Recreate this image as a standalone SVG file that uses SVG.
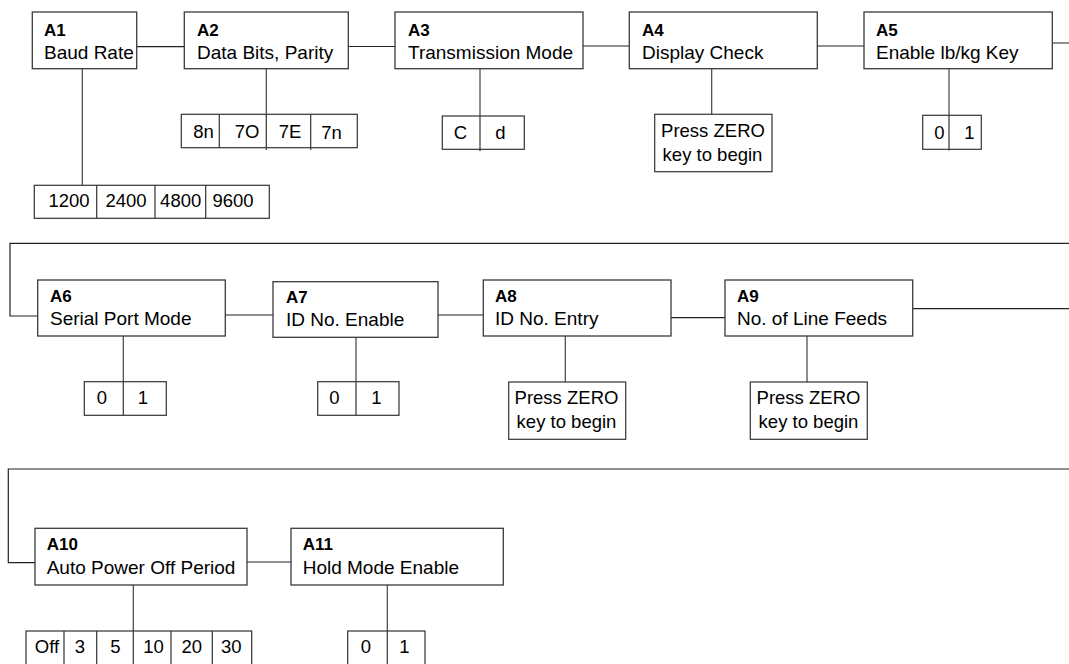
<svg xmlns="http://www.w3.org/2000/svg" width="1069" height="664" viewBox="0 0 1069 664">
<style>
.box{fill:#fff;stroke:#3a3a3a;stroke-width:1.3}
.opt{fill:#fff;stroke:#333;stroke-width:1.2}
.dv{stroke:#333;stroke-width:1.2}
.ln{fill:none;stroke:#222;stroke-width:1.2}
.dn{fill:none;stroke:#444;stroke-width:1.2}
.lbl{font-family:"Liberation Sans",Arial,sans-serif;font-weight:bold;font-size:17px;fill:#000}
.txt{font-family:"Liberation Sans",Arial,sans-serif;font-size:19px;fill:#000}
.o{font-family:"Liberation Sans",Arial,sans-serif;font-size:18.5px;fill:#000;text-anchor:middle}
</style>
<rect width="1069" height="664" fill="#fff"/>
<g id="connectors">
<path class="ln" d="M136.7 46.7H184.3M348.3 46.5H395M583 46H629.3M817.3 46H864M1052.3 43H1069"/>
<path class="dn" d="M82.3 68.7V185.3M266.3 68.7V114.3M480 68.7V116M711.7 68.7V114.3M949 68.7V115.3"/>
<path class="ln" d="M1069 243.3H10V316H37.7M225.3 315H273M438 315H483.3M671 317.7H725M912.7 308.7H1069"/>
<path class="dn" d="M123.3 336V381.7M356 337.3V381.7M565.3 336V382M807 336V382"/>
<path class="ln" d="M1069 469H8.3V562.7H35M247 562H291"/>
<path class="dn" d="M133.3 585V631M387.3 585V631"/>
</g>
<g id="A1">
<rect class="box" x="32.3" y="12" width="104.4" height="56.7"/>
<text class="lbl" x="44" y="35.5">A1</text>
<text class="txt" x="44" y="58.5">Baud Rate</text>
</g>
<g id="A1-options">
<rect class="opt" x="34.3" y="185.3" width="235" height="33"/>
<path class="dv" d="M96.7 185.3V218.3M155 185.3V218.3M205.7 185.3V218.3"/>
<text class="o" x="69" y="207">1200</text>
<text class="o" x="126" y="207">2400</text>
<text class="o" x="180.7" y="207">4800</text>
<text class="o" x="233" y="207">9600</text>
</g>
<g id="A2">
<rect class="box" x="184.3" y="12" width="164" height="56.7"/>
<text class="lbl" x="197" y="35.5">A2</text>
<text class="txt" x="197" y="58.5">Data Bits, Parity</text>
</g>
<g id="A2-options">
<rect class="opt" x="181.3" y="114.3" width="176" height="33.4"/>
<path class="dv" d="M219.3 114.3V147.7M266.3 114.3V150M310.7 114.3V150"/>
<text class="o" x="203.5" y="138">8n</text>
<text class="o" x="247" y="138">7O</text>
<text class="o" x="290" y="138">7E</text>
<text class="o" x="331.5" y="139">7n</text>
</g>
<g id="A3">
<rect class="box" x="395" y="12" width="188" height="56.7"/>
<text class="lbl" x="408" y="35.5">A3</text>
<text class="txt" x="408" y="58.5">Transmission Mode</text>
</g>
<g id="A3-options">
<rect class="opt" x="442.3" y="116" width="82" height="33.3"/>
<path class="dv" d="M480 116V151"/>
<text class="o" x="460.5" y="139">C</text>
<text class="o" x="500.5" y="139">d</text>
</g>
<g id="A4">
<rect class="box" x="629.3" y="12" width="188" height="56.7"/>
<text class="lbl" x="642" y="35.5">A4</text>
<text class="txt" x="642" y="58.5">Display Check</text>
</g>
<g id="A4-options">
<rect class="opt" x="654.7" y="114.3" width="117.3" height="57.4"/>
<text class="o" x="713" y="137">Press ZERO</text>
<text class="o" x="712.5" y="161">key to begin</text>
</g>
<g id="A5">
<rect class="box" x="864" y="12" width="188.3" height="56.7"/>
<text class="lbl" x="876" y="35.5">A5</text>
<text class="txt" x="876" y="58.5">Enable lb/kg Key</text>
</g>
<g id="A5-options">
<rect class="opt" x="922.7" y="115.3" width="58.6" height="34"/>
<path class="dv" d="M949 115.3V150.5"/>
<text class="o" x="939.3" y="139">0</text>
<text class="o" x="969.5" y="139">1</text>
</g>
<g id="A6">
<rect class="box" x="37.7" y="280" width="187.6" height="56"/>
<text class="lbl" x="50" y="301.7">A6</text>
<text class="txt" x="50" y="325">Serial Port Mode</text>
</g>
<g id="A6-options">
<rect class="opt" x="84.3" y="381.7" width="82" height="33.6"/>
<path class="dv" d="M123.3 381.7V415.3"/>
<text class="o" x="101.8" y="404">0</text>
<text class="o" x="143" y="404">1</text>
</g>
<g id="A7">
<rect class="box" x="273" y="281.7" width="165" height="55.6"/>
<text class="lbl" x="286" y="303.3">A7</text>
<text class="txt" x="286" y="326">ID No. Enable</text>
</g>
<g id="A7-options">
<rect class="opt" x="317.7" y="381.7" width="81.3" height="33.6"/>
<path class="dv" d="M356 381.7V415.3"/>
<text class="o" x="334.5" y="404">0</text>
<text class="o" x="376.5" y="404">1</text>
</g>
<g id="A8">
<rect class="box" x="483.3" y="280" width="187.7" height="56"/>
<text class="lbl" x="495" y="301.7">A8</text>
<text class="txt" x="495" y="325">ID No. Entry</text>
</g>
<g id="A8-options">
<rect class="opt" x="508.7" y="382" width="117" height="57.3"/>
<text class="o" x="566.5" y="404">Press ZERO</text>
<text class="o" x="566.5" y="428">key to begin</text>
</g>
<g id="A9">
<rect class="box" x="725" y="280" width="187.7" height="56"/>
<text class="lbl" x="737" y="301.7">A9</text>
<text class="txt" x="737" y="325">No. of Line Feeds</text>
</g>
<g id="A9-options">
<rect class="opt" x="750.3" y="382" width="117" height="57.3"/>
<text class="o" x="808.5" y="404">Press ZERO</text>
<text class="o" x="808.5" y="428">key to begin</text>
</g>
<g id="A10">
<rect class="box" x="35" y="528.3" width="212" height="56.7"/>
<text class="lbl" x="46.7" y="550">A10</text>
<text class="txt" x="46.7" y="574">Auto Power Off Period</text>
</g>
<g id="A10-options">
<rect class="opt" x="26" y="631" width="225.7" height="40"/>
<path class="dv" d="M64 631V664M96.7 631V664M133.3 631V664M171 631V664M212.3 631V664"/>
<text class="o" x="47" y="653.3">Off</text>
<text class="o" x="80" y="653.3">3</text>
<text class="o" x="115.5" y="653.3">5</text>
<text class="o" x="153.5" y="653.3">10</text>
<text class="o" x="191.7" y="653.3">20</text>
<text class="o" x="231.2" y="653.3">30</text>
</g>
<g id="A11">
<rect class="box" x="291" y="528.3" width="212.3" height="56.7"/>
<text class="lbl" x="302.7" y="550">A11</text>
<text class="txt" x="302.7" y="574">Hold Mode Enable</text>
</g>
<g id="A11-options">
<rect class="opt" x="347.7" y="631" width="77.3" height="40"/>
<path class="dv" d="M387.3 631V664"/>
<text class="o" x="366" y="653.3">0</text>
<text class="o" x="404.5" y="653.3">1</text>
</g>
</svg>
